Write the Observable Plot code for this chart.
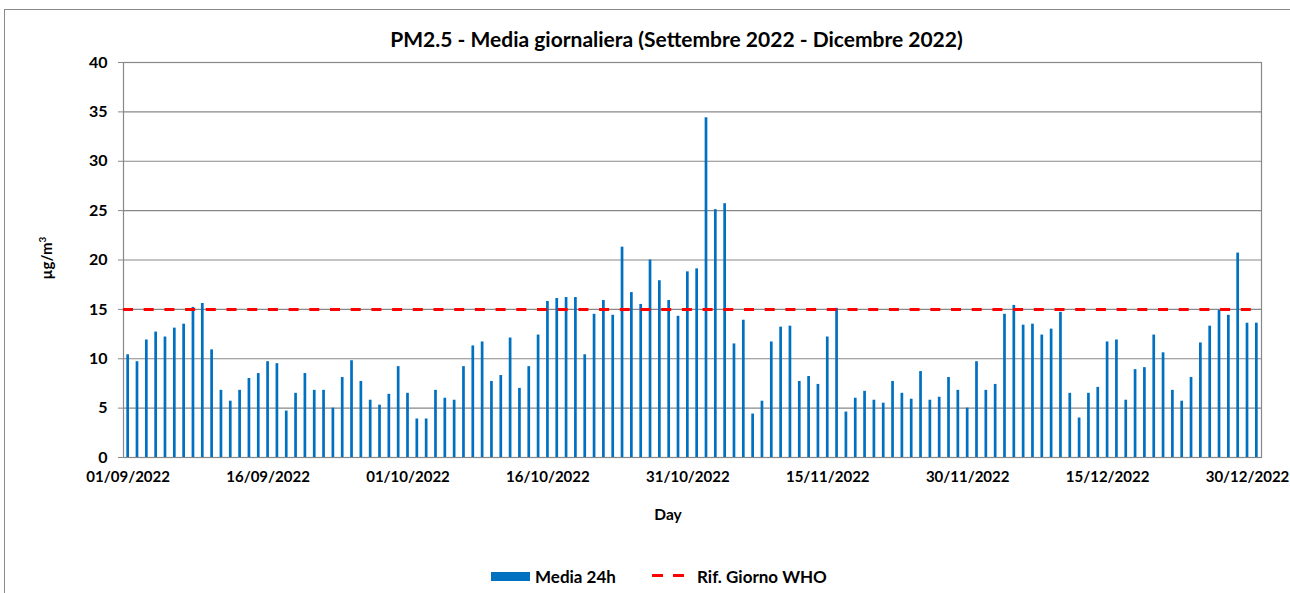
<!DOCTYPE html>
<html>
<head>
<meta charset="utf-8">
<script src="https://cdn.jsdelivr.net/npm/d3@7"></script>
<script src="https://cdn.jsdelivr.net/npm/@observablehq/plot@0.6"></script>
<style>
  html, body { margin: 0; padding: 0; background: #fff; }
  body { width: 1290px; height: 593px; position: relative; overflow: hidden; font-family: Lato, "Open Sans", sans-serif; }
  #frame { position: absolute; left: 4px; top: 9px; width: 1400px; height: 700px; border: 1px solid #8a8a8a; box-sizing: border-box; }
  #title { position: absolute; left: 0; width: 1353px; top: 26px; text-align: center; font-weight: bold; font-size: 21px; color: #000; white-space: nowrap; }
  #chart { position: absolute; left: 0; top: 0; }
  #ylab { position: absolute; left: 45px; top: 258px; transform: translate(-50%, -50%) rotate(-90deg); font-weight: bold; font-size: 15px; white-space: nowrap; }
  #xlab { position: absolute; left: 668px; top: 514px; transform: translate(-50%, -50%); font-weight: bold; font-size: 15.5px; }
  .leg { position: absolute; top: 576px; transform: translateY(-50%); font-weight: bold; font-size: 17px; white-space: nowrap; }
  .sw { position: absolute; }
</style>
</head>
<body>
<div id="frame"></div>
<div id="chart"></div>
<div id="title">PM2.5 - Media giornaliera (Settembre 2022 - Dicembre 2022)</div>
<div id="ylab">µg/m<sup style="font-size:10px">3</sup></div>
<div id="xlab">Day</div>
<div class="sw" style="left:491px; top:572px; width:39px; height:9px; background:#0070c0;"></div>
<div class="leg" style="left:535px;">Media 24h</div>
<div class="sw" style="left:652px; top:574px; width:11px; height:3px; background:#ff0000;"></div>
<div class="sw" style="left:673px; top:574px; width:11px; height:3px; background:#ff0000;"></div>
<div class="leg" style="left:697px;">Rif. Giorno WHO</div>
<script>
// Categories: one per day, 01/09/2022 .. 31/12/2022
const startDay = "2022-09-01";
const endDayExclusive = "2023-01-01";
const fmt = d3.utcFormat("%d/%m/%Y");
const days = d3.utcDay.range(new Date(startDay), new Date(endDayExclusive)).map(fmt);

// Daily PM2.5 mean (µg/m³)
const media24h = [
  10.4, 9.7, 11.9, 12.7, 12.2, 13.1, 13.5, 15.2, 15.6, 10.9,
  6.8, 5.7, 6.8, 8.0, 8.5, 9.7, 9.5, 4.7, 6.5, 8.5,
  6.8, 6.8, 5.0, 8.1, 9.8, 7.7, 5.8, 5.3, 6.4, 9.2,
  6.5, 3.9, 3.9, 6.8, 6.0, 5.8, 9.2, 11.3, 11.7, 7.7,
  8.3, 12.1, 7.0, 9.2, 12.4, 15.8, 16.1, 16.2, 16.2, 10.4,
  14.5, 15.9, 14.4, 21.3, 16.7, 15.5, 20.0, 17.9, 15.9, 14.3,
  18.8, 19.1, 34.4, 25.1, 25.7, 11.5, 13.9, 4.4, 5.7, 11.7,
  13.2, 13.3, 7.7, 8.2, 7.4, 12.2, 15.1, 4.6, 6.0, 6.7,
  5.8, 5.5, 7.7, 6.5, 5.9, 8.7, 5.8, 6.1, 8.1, 6.8,
  5.0, 9.7, 6.8, 7.4, 14.5, 15.4, 13.4, 13.5, 12.4, 13.0,
  14.7, 6.5, 4.0, 6.5, 7.1, 11.7, 11.9, 5.8, 8.9, 9.1,
  12.4, 10.6, 6.8, 5.7, 8.1, 11.6, 13.3, 14.9, 14.4, 20.7,
  13.6, 13.6
];

const whoDaily = [15];
const xTickLabels = ["01/09/2022", "16/09/2022", "01/10/2022", "16/10/2022", "31/10/2022",
                     "15/11/2022", "30/11/2022", "15/12/2022", "30/12/2022"];
const yTicks = [0, 5, 10, 15, 20, 25, 30, 35, 40];

const data = days.map((d, i) => ({day: d, value: media24h[i]}));

const chart = Plot.plot({
  width: 1290,
  height: 545,
  marginLeft: 123,
  marginRight: 29,
  marginTop: 62,
  marginBottom: 88,
  style: {fontFamily: "Lato, 'Open Sans', sans-serif", background: "transparent"},
  x: {type: "band", domain: days, paddingInner: 0.71, paddingOuter: 0.355, label: null},
  y: {domain: [0, 40], label: null},
  marks: [
    Plot.gridY(yTicks, {stroke: "#888888", strokeOpacity: 1, strokeWidth: 1.2}),
    Plot.frame({stroke: "#888888", strokeWidth: 1.2}),
    Plot.barY(data, {x: "day", y: "value", fill: "#0070c0"}),
    Plot.ruleY(whoDaily, {stroke: "#ff0000", strokeWidth: 3, strokeDasharray: "10,10.7"}),
    Plot.axisY(yTicks, {tickSize: 5, tickPadding: 11, fontSize: 16, fontWeight: "bold", stroke: "#888888", fill: "#000", label: null}),
    Plot.axisX(xTickLabels, {tickSize: 0, tickPadding: 14, fontSize: 15, fontWeight: "bold", fill: "#000", label: null})
  ]
});
document.getElementById("chart").appendChild(chart);
</script>
</body>
</html>
